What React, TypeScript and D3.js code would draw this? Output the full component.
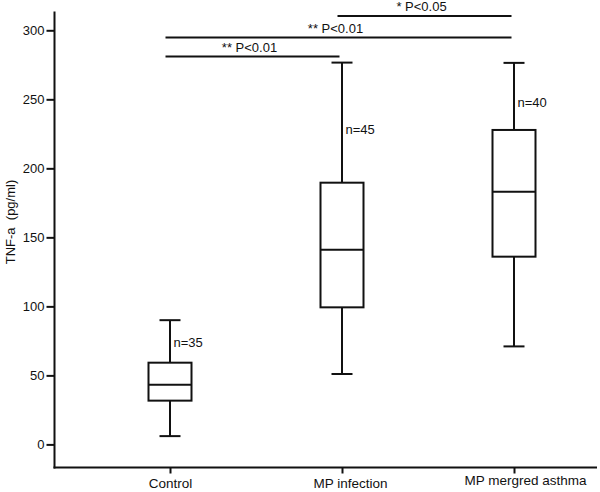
import React, { useRef, useEffect } from 'react';
import * as d3 from 'd3';

// groups and box stats (pg/ml)
const groups = ['Control', 'MP infection', 'MP mergred asthma'];
const mins = [6, 51, 71];
const q1s = [31.7, 99.3, 136];
const medians = [43.3, 141, 183];
const q3s = [59.2, 189.6, 227.8];
const maxs = [90, 276.6, 276.4];
const nLabels = ['n=35', 'n=45', 'n=40'];
const nValues = [74, 228, 248];

// significance brackets: from group, to group, level, label
const sigFrom = [0, 0, 1];
const sigTo = [1, 2, 2];
const sigLevel = [281, 294.7, 310.4];
const sigLabels = ['** P<0.01', '** P<0.01', '* P<0.05'];

const yTicks = [0, 50, 100, 150, 200, 250, 300];

const W = 600;
const H = 492;

const App = () => {
    const svgRef = useRef<SVGSVGElement>(null);

    useEffect(() => {
        const svg = d3.select(svgRef.current);
        svg.selectAll('*').remove();

        const font = 'Liberation Sans, Arial, sans-serif';
        const axisX = 54.5;
        const axisY = 467.5;

        const y = d3.scaleLinear().domain([0, 300]).range([444.4, 30.3]);
        const x = d3.scalePoint<string>().domain(groups).range([170, 514]);

        const boxW = 43;
        const capW = 21;

        // axes
        const yAxis = svg.append('g')
            .attr('transform', `translate(${axisX},0)`)
            .call(d3.axisLeft(y).tickValues(yTicks).tickSize(8).tickPadding(2))
            .call(g => g.select('.domain').remove());
        yAxis.selectAll('line').attr('stroke', '#111').attr('stroke-width', 2);
        yAxis.selectAll('text').attr('font-family', font).attr('font-size', 13).attr('fill', '#111');

        svg.append('line')
            .attr('x1', axisX).attr('x2', axisX)
            .attr('y1', 11.5).attr('y2', axisY + 1)
            .attr('stroke', '#111').attr('stroke-width', 2);

        const xAxis = svg.append('g')
            .attr('transform', `translate(0,${axisY})`)
            .call(d3.axisBottom(x).tickSize(6).tickPadding(5))
            .call(g => g.select('.domain').remove());
        xAxis.selectAll('line').attr('stroke', '#111').attr('stroke-width', 2);
        xAxis.selectAll('text')
            .attr('font-family', font).attr('font-size', 13.5).attr('fill', '#111')
            .attr('dx', (d: any) => (d === 'MP infection' ? 8 : d === 'MP mergred asthma' ? 11 : 0))
            .attr('dy', (d: any) => (d === 'MP mergred asthma' ? '0.5em' : '0.71em'));

        svg.append('line')
            .attr('x1', axisX - 1).attr('x2', 597)
            .attr('y1', axisY).attr('y2', axisY)
            .attr('stroke', '#111').attr('stroke-width', 2);

        svg.append('text')
            .attr('transform', `translate(15,222) rotate(-90)`)
            .attr('text-anchor', 'middle')
            .attr('font-family', font).attr('font-size', 13).attr('fill', '#111')
            .attr('xml:space', 'preserve')
            .text('TNF-a  (pg/ml)');

        // boxes
        const boxes = svg.append('g')
            .attr('fill', 'none').attr('stroke', '#111').attr('stroke-width', 2);

        groups.forEach((gName, i) => {
            const cx = x(gName) as number;
            const g = boxes.append('g');
            g.append('line').attr('x1', cx).attr('x2', cx).attr('y1', y(maxs[i])).attr('y2', y(q3s[i]));
            g.append('line').attr('x1', cx).attr('x2', cx).attr('y1', y(q1s[i])).attr('y2', y(mins[i]));
            g.append('line').attr('x1', cx - capW / 2).attr('x2', cx + capW / 2).attr('y1', y(maxs[i])).attr('y2', y(maxs[i]));
            g.append('line').attr('x1', cx - capW / 2).attr('x2', cx + capW / 2).attr('y1', y(mins[i])).attr('y2', y(mins[i]));
            g.append('rect')
                .attr('x', cx - boxW / 2).attr('y', y(q3s[i]))
                .attr('width', boxW).attr('height', y(q1s[i]) - y(q3s[i]))
                .attr('fill', '#fff');
            g.append('line').attr('x1', cx - boxW / 2).attr('x2', cx + boxW / 2).attr('y1', y(medians[i])).attr('y2', y(medians[i]));

            svg.append('text')
                .attr('x', cx + 3.5).attr('y', y(nValues[i]))
                .attr('font-family', font).attr('font-size', 13).attr('fill', '#111')
                .attr('dy', '0.35em')
                .text(nLabels[i]);
        });

        // significance brackets
        sigLabels.forEach((label, i) => {
            const x1 = (x(groups[sigFrom[i]]) as number) - 4.5;
            const x2 = (x(groups[sigTo[i]]) as number) - 2.5;
            const ly = y(sigLevel[i]);
            svg.append('line')
                .attr('x1', x1).attr('x2', x2).attr('y1', ly).attr('y2', ly)
                .attr('stroke', '#111').attr('stroke-width', 2);
            svg.append('text')
                .attr('x', (x1 + x2) / 2 - 3).attr('y', ly - 4.5)
                .attr('text-anchor', 'middle')
                .attr('font-family', font).attr('font-size', 13).attr('fill', '#111')
                .text(label);
        });
    }, []);

    return (
        <svg ref={svgRef} width={W} height={H}
            style={{ position: 'absolute', left: 0, top: 0, background: '#fff' }} />
    );
};

export default App;
